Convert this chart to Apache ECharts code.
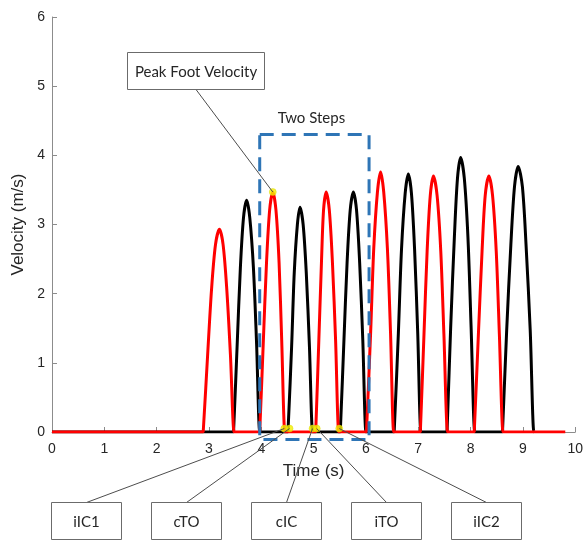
<!DOCTYPE html>
<html><head><meta charset="utf-8">
<script src="https://cdn.jsdelivr.net/npm/echarts@6/dist/echarts.min.js"></script>
<style>html,body{margin:0;padding:0;background:#fff}#c{width:586px;height:540px}</style>
</head><body><div id="c"></div>
<script>
// ---- data ----
const xTickValues = [0,1,2,3,4,5,6,7,8,9,10];
const yTickValues = [0,1,2,3,4,5,6];

// ipsilateral foot velocity (red)
const redSeries = [
  [0,0],
  [2.89,0],[2.90,0],[2.975,1.12],[3.05,2.07],[3.125,2.71],[3.20,2.93],[3.27,2.71],[3.34,2.07],[3.41,1.12],[3.48,0],[3.49,0],
  [3.97,0],[3.98,0],[4.04,1.33],[4.10,2.45],[4.16,3.21],[4.22,3.47],[4.28,3.21],[4.34,2.45],[4.39,1.33],[4.45,0],[4.46,0],
  [5.04,0],[5.05,0],[5.10,1.33],[5.15,2.45],[5.19,3.21],[5.24,3.47],[5.30,3.21],[5.36,2.45],[5.42,1.33],[5.48,0],[5.49,0],
  [6.01,0],[6.02,0],[6.09,1.44],[6.15,2.66],[6.22,3.47],[6.28,3.76],[6.34,3.47],[6.41,2.66],[6.47,1.44],[6.53,0],[6.54,0],
  [7.04,0],[7.05,0],[7.11,1.42],[7.17,2.62],[7.23,3.42],[7.29,3.70],[7.36,3.42],[7.43,2.62],[7.49,1.42],[7.56,0],[7.57,0],
  [8.07,0],[8.08,0],[8.15,1.42],[8.22,2.62],[8.28,3.42],[8.35,3.70],[8.42,3.42],[8.49,2.62],[8.55,1.42],[8.62,0],[8.63,0],
  [9.81,0]
];

// contralateral foot velocity (black)
const blackSeries = [
  [0,0],
  [3.47,0],[3.48,0],[3.54,1.28],[3.60,2.37],[3.66,3.10],[3.72,3.35],[3.78,3.10],[3.85,2.37],[3.91,1.28],[3.97,0],[3.98,0],
  [4.51,0],[4.52,0],[4.58,1.24],[4.63,2.30],[4.69,3.00],[4.74,3.25],[4.80,3.00],[4.86,2.30],[4.92,1.24],[4.98,0],[4.99,0],
  [5.51,0],[5.52,0],[5.58,1.33],[5.64,2.45],[5.70,3.21],[5.76,3.47],[5.82,3.21],[5.88,2.45],[5.94,1.33],[6.00,0],[6.01,0],
  [6.54,0],[6.55,0],[6.62,1.43],[6.68,2.64],[6.75,3.45],[6.81,3.73],[6.87,3.45],[6.93,2.64],[6.99,1.43],[7.05,0],[7.06,0],
  [7.55,0],[7.56,0],[7.62,1.52],[7.69,2.81],[7.75,3.67],[7.81,3.97],[7.88,3.67],[7.95,2.81],[8.01,1.52],[8.08,0],[8.09,0],
  [8.61,0],[8.62,0],[8.69,1.47],[8.77,2.71],[8.84,3.55],[8.91,3.84],[8.99,3.55],[9.06,2.71],[9.14,1.47],[9.21,0],[9.22,0]
];

const eventLabels = ['iIC1','cTO','cIC','iTO','iIC2'];
const eventTimes  = [4.44, 4.54, 4.98, 5.06, 5.49];
const eventLevel  = [0.05, 0.05, 0.05, 0.05, 0.05];
const peakPoint   = [4.22, 3.47];
const peakLabel   = 'Peak Foot Velocity';
const stepsLabel  = 'Two Steps';
const stepsRange  = [3.97, 6.06];   // time extent of the dashed box
const stepsLevel  = [-0.11, 4.3];   // velocity extent of the dashed box
const xName = 'Time (s)';
const yName = 'Velocity (m/s)';

// ---- chart ----
const chart = echarts.init(document.getElementById('c'), null, {renderer:'canvas'});
const axisGray = '#8c8c8c';
const txt = '#262626';
const tickFont = {color: txt, fontSize: 14, fontFamily: 'Liberation Sans'};

chart.setOption({
  animation: false,
  backgroundColor: '#fff',
  grid: {left: 52, right: 10, top: 17, bottom: 108},
  xAxis: {
    type: 'value', min: xTickValues[0], max: xTickValues[xTickValues.length-1], interval: 1,
    axisLine: {show: true, onZero: false, lineStyle: {color: axisGray, width: 1}},
    axisTick: {show: true, inside: true, length: 5, lineStyle: {color: axisGray}},
    axisLabel: Object.assign({margin: 10}, tickFont),
    splitLine: {show: false},
    name: xName, nameLocation: 'middle', nameGap: 31,
    nameTextStyle: {color: txt, fontSize: 17, fontFamily: 'Liberation Sans'}
  },
  yAxis: {
    type: 'value', min: yTickValues[0], max: yTickValues[yTickValues.length-1], interval: 1,
    axisLine: {show: true, lineStyle: {color: axisGray, width: 1}},
    axisTick: {show: true, inside: true, length: 5, lineStyle: {color: axisGray}},
    axisLabel: Object.assign({margin: 7}, tickFont),
    splitLine: {show: false},
    name: yName, nameLocation: 'middle', nameGap: 22,
    nameTextStyle: {color: txt, fontSize: 17, fontFamily: 'Liberation Sans'}
  },
  series: [
    {type: 'line', data: blackSeries, showSymbol: false, symbol: 'none', smooth: 0.3,
     lineStyle: {color: '#000', width: 3}, z: 2},
    {type: 'line', data: redSeries, showSymbol: false, symbol: 'none', smooth: 0.3,
     lineStyle: {color: '#ff0000', width: 3}, z: 3},
    {type: 'scatter', data: eventTimes.map((t,i)=>[t, eventLevel[i]]).concat([peakPoint]),
     symbolSize: 7, itemStyle: {color: '#f4f000', borderColor: '#d8d400', borderWidth: 0.5}, z: 5}
  ]
});

const px = (x, y) => chart.convertToPixel({gridIndex: 0}, [x, y]);
const annFont = 'Lato';
const g = [];

// dashed "Two Steps" box
const a = px(stepsRange[0], stepsLevel[1]);
const b = px(stepsRange[1], stepsLevel[0]);
g.push({type: 'rect', z: 50, shape: {x: a[0], y: a[1], width: b[0]-a[0], height: b[1]-a[1]},
  style: {fill: null, stroke: '#2e75b6', lineWidth: 3, lineDash: [14, 8]}});
g.push({type: 'text', z: 50, style: {text: stepsLabel, x: (a[0]+b[0])/2 - 3, y: a[1]-16,
  align: 'center', verticalAlign: 'middle', fontSize: 15, fontFamily: annFont, fill: txt}});

// Peak Foot Velocity callout
const pk = px(peakPoint[0], peakPoint[1]);
const pbox = {x: 127.5, y: 52.5, w: 137, h: 37};
g.push({type: 'line', z: 60, shape: {x1: 196, y1: pbox.y + pbox.h, x2: pk[0], y2: pk[1]},
  style: {stroke: '#4d4d4d', lineWidth: 1}});
g.push({type: 'rect', z: 61, shape: {x: pbox.x, y: pbox.y, width: pbox.w, height: pbox.h},
  style: {fill: '#fff', stroke: '#6b6b6b', lineWidth: 1}});
g.push({type: 'text', z: 62, style: {text: peakLabel, x: pbox.x + pbox.w/2, y: pbox.y + pbox.h/2 + 1,
  align: 'center', verticalAlign: 'middle', fontSize: 15, fontFamily: annFont, fill: txt}});

// event callouts
eventLabels.forEach((lab, i) => {
  const bx = 51.5 + i*100, by = 502.5, bw = 70, bh = 37;
  const e = px(eventTimes[i], eventLevel[i]);
  g.push({type: 'line', z: 60, shape: {x1: bx + bw/2, y1: by, x2: e[0], y2: e[1]},
    style: {stroke: '#4d4d4d', lineWidth: 1}});
  g.push({type: 'rect', z: 61, shape: {x: bx, y: by, width: bw, height: bh},
    style: {fill: '#fff', stroke: '#6b6b6b', lineWidth: 1}});
  g.push({type: 'text', z: 62, style: {text: lab, x: bx + bw/2, y: by + bh/2 + 1,
    align: 'center', verticalAlign: 'middle', fontSize: 15, fontFamily: annFont, fill: txt}});
});

chart.setOption({graphic: g});
</script>
</body></html>
